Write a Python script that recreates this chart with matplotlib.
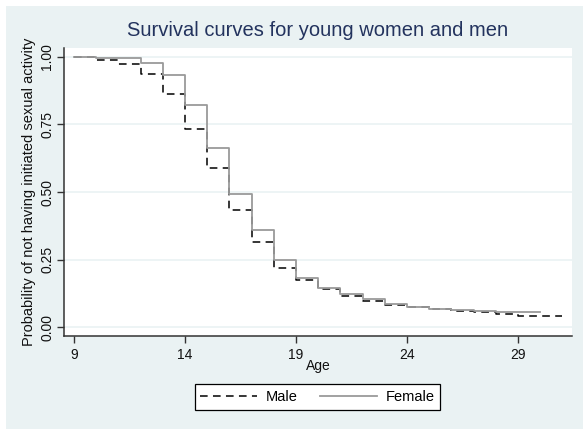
import matplotlib.pyplot as plt
import numpy as np

# Kaplan-Meier style survival estimates (value holds from age to age+1)
male_ages = [9, 10, 11, 12, 13, 14, 15, 16, 17, 18, 19, 20, 21, 22, 23, 24, 25, 26, 27, 28, 29, 30, 31]
male_surv = [1.000, 0.990, 0.973, 0.938, 0.862, 0.732, 0.588, 0.432, 0.314, 0.218, 0.174, 0.139,
             0.115, 0.096, 0.083, 0.073, 0.066, 0.060, 0.055, 0.049, 0.041, 0.041, 0.041]

female_ages = [9, 10, 11, 12, 13, 14, 15, 16, 17, 18, 19, 20, 21, 22, 23, 24, 25, 26, 27, 28, 29, 30]
female_surv = [1.000, 0.996, 0.996, 0.977, 0.934, 0.823, 0.664, 0.491, 0.359, 0.249, 0.181, 0.143,
               0.124, 0.105, 0.086, 0.073, 0.068, 0.064, 0.060, 0.057, 0.055, 0.055]

x_ticks = [9, 14, 19, 24, 29]
y_ticks = [0.0, 0.25, 0.5, 0.75, 1.0]
y_labels = ["0.00", "0.25", "0.50", "0.75", "1.00"]

plt.rcParams['font.family'] = ['Liberation Sans', 'DejaVu Sans']

bg = '#EAF2F3'
W, H = 583, 429
fig = plt.figure(figsize=(W / 100, H / 100), dpi=100, facecolor='white')

# light blue graph region (white strip at top/left as in the cropped screenshot)
fig.patches.append(plt.Rectangle((6 / W, 0), 1, (H - 6) / H, transform=fig.transFigure,
                                 facecolor=bg, edgecolor='none', zorder=-10))

ax = fig.add_axes([64 / W, (H - 336) / H, (572 - 64) / W, (336 - 48) / H])
ax.set_facecolor('white')

ax.step(male_ages, male_surv, where='post', color='black', linestyle=(0, (5, 3.5)),
        linewidth=1.1, label='Male')
ax.step(female_ages, female_surv, where='post', color='#9a9a9a', linewidth=1.3,
        label='Female')

ax.set_xlim(8.55, 31.43)
ax.set_ylim(-0.0333, 1.0333)
ax.set_xticks(x_ticks)
ax.set_yticks(y_ticks)
ax.set_yticklabels(y_labels, rotation=90, va='center')
ax.yaxis.grid(True, color=bg, linewidth=1.2)
ax.set_axisbelow(True)

for s in ['top', 'right']:
    ax.spines[s].set_visible(False)
for s in ['left', 'bottom']:
    ax.spines[s].set_color('#333333')
    ax.spines[s].set_linewidth(1.1)

ax.tick_params(axis='both', direction='out', length=5, width=1, color='#333333',
               labelsize=10, labelcolor='#111111')
ax.tick_params(axis='x', pad=3.5)
ax.tick_params(axis='y', pad=2)

ax.set_xlabel('Age', fontsize=10, color='#111111', labelpad=-2)
ax.set_ylabel('Probability of not having initiated sexual activity', fontsize=10.5,
              color='#111111', labelpad=3)
ax.set_title('Survival curves for young women and men', fontsize=14.5, color='#23335e', pad=9)

leg = fig.legend(loc='center', bbox_to_anchor=(317.4 / W, 32.3 / H), ncol=2, frameon=True,
                 fancybox=False, edgecolor='black', facecolor='white', framealpha=1,
                 fontsize=10.5, handlelength=3.9, columnspacing=1.5, handletextpad=0.6,
                 borderpad=0.4)
leg.get_frame().set_linewidth(0.9)

fig.savefig('out.png', dpi=100, facecolor=fig.get_facecolor())
